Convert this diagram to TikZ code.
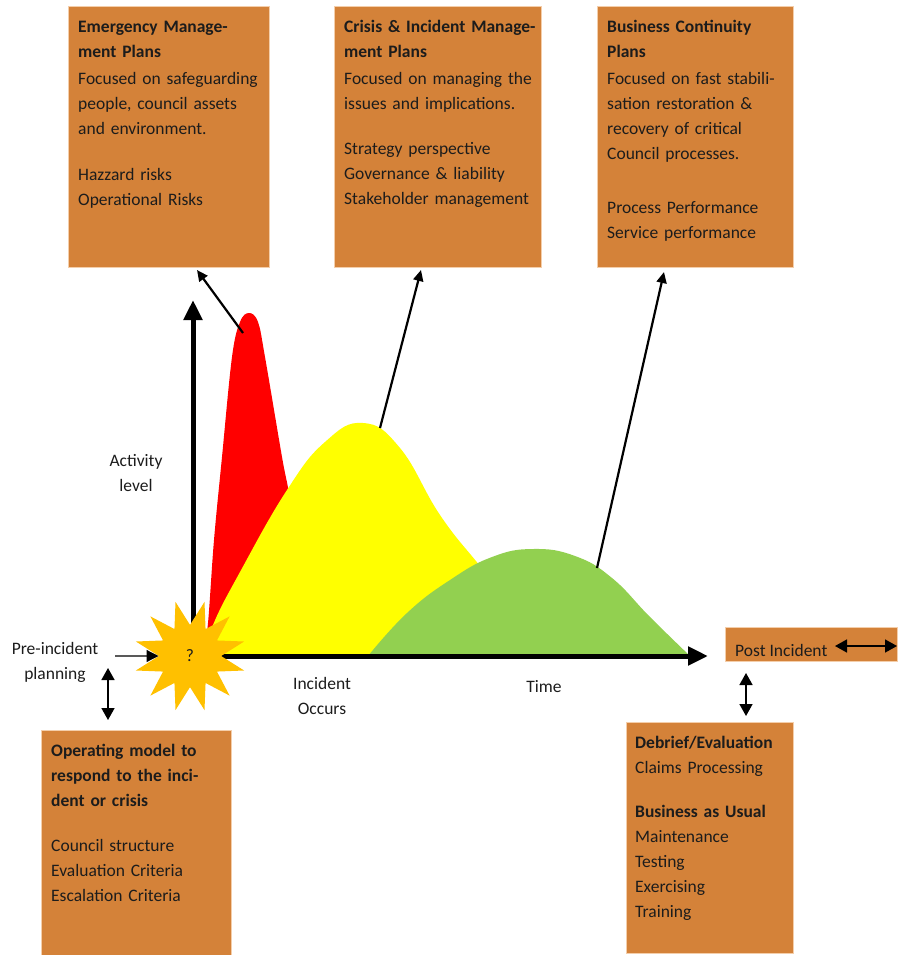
\documentclass[tikz,border=0pt]{standalone}
\usepackage{fontspec}
\setmainfont{Carlito}
\usetikzlibrary{arrows.meta,shapes.geometric}
\definecolor{planorange}{RGB}{212,130,57}
\definecolor{planedge}{RGB}{244,206,170}
\definecolor{peakred}{RGB}{255,0,0}
\definecolor{peakyellow}{RGB}{255,255,0}
\definecolor{peakgreen}{RGB}{146,208,80}
\definecolor{burstgold}{RGB}{255,192,0}
\definecolor{inkgrey}{RGB}{28,28,28}
\newcommand{\planfont}{\fontsize{17.5}{25}\selectfont}
\tikzset{
  planbox/.style={draw=planedge, line width=1pt, fill=planorange, anchor=north west, inner sep=0pt, outer sep=0pt},
  plantext/.style={anchor=north west, inner sep=0pt, text width=195pt, align=left, font=\planfont, text=inkgrey, xshift=10pt, yshift=-8pt},
  axistext/.style={align=center, font=\planfont, text=inkgrey, inner sep=0pt},
  axisline/.style={line width=5pt, -{Triangle[length=20pt,width=18pt]}},
  callout/.style={line width=2.2pt, -{Triangle[length=11pt,width=10pt]}},
  feedarrow/.style={line width=1.2pt, -{Triangle[length=12pt,width=12pt]}},
  dblarrow/.style={line width=1.6pt, {Triangle[length=12pt,width=13pt]}-{Triangle[length=12pt,width=13pt]}},
}
\begin{document}
\begin{tikzpicture}[x=1pt,y=-1pt]
    \useasboundingbox (0,0) rectangle (897,955);
    %% activity curves
    \fill[peakred] plot[smooth, tension=0.6] coordinates {(203,656) (208,623) (214,540) (222,457) (232,357) (240,322) (249,313) (258,322) (265,357) (282,457) (290,500) (300,580) (306,656)} -- cycle;
    \fill[peakyellow] plot[smooth, tension=0.75] coordinates {(205,656) (213,625) (240,572) (287,490) (325,442) (363,423) (400,448) (440,515) (480,566) (520,615) (552,656)} -- cycle;
    \fill[peakgreen] plot[smooth, tension=0.75] coordinates {(368,656) (407,613) (450,580) (492,557) (533,549) (575,556) (612,578) (650,617) (690,656)} -- cycle;
    %% axes
    \coordinate (origin) at (193,656);
    \coordinate (ytop) at (193,300);
    \coordinate (xend) at (708,656);
    \draw[axisline] ([yshift=-2.5pt]origin) -- (ytop);
    \draw[axisline] ([xshift=-2.5pt]origin) -- (xend);
    %% plan boxes
    \node[planbox, minimum width=201pt, minimum height=260pt] (emp) at (68,7) {};
    \node[plantext] (emptext) at (emp.north west) {\strut\textbf{Emergency Manage-}\\ \textbf{ment Plans}\\[2pt]
        Focused on safeguarding\\ people, council assets\\ and environment.\\[21pt] Hazzard risks\\ Operational Risks};
    \node[planbox, minimum width=207pt, minimum height=260pt] (cim) at (334,7) {};
    \node[plantext] (cimtext) at (cim.north west) {\strut\textbf{Crisis \& Incident Manage-}\\ \textbf{ment Plans}\\[2pt]
        Focused on managing the\\ issues and implications.\\[20pt] Strategy perspective\\ Governance \& liability\\ Stakeholder management};
    \node[planbox, minimum width=196pt, minimum height=260pt] (bcp) at (597,7) {};
    \node[plantext] (bcptext) at (bcp.north west) {\strut\textbf{Business Continuity}\\ \textbf{Plans}\\[2pt]
        Focused on fast stabili-\\ sation restoration \&\\ recovery of critical\\ Council processes.\\[29pt]
        Process Performance\\ Service performance};
    \node[planbox, minimum width=190pt, minimum height=225pt] (opm) at (41,730) {};
    \node[plantext, yshift=-1pt] (opmtext) at (opm.north west) {\strut\textbf{Operating model to}\\ \textbf{respond to the inci-}\\ \textbf{dent or crisis}\\[20pt]
        Council structure\\ Evaluation Criteria\\ Escalation Criteria};
    \node[planbox, minimum width=167pt, minimum height=231pt] (brief) at (626,722) {};
    \node[plantext, yshift=-1pt, xshift=-1pt] (brieftext) at (brief.north west) {\strut\textbf{Debrief/Evaluation}\\ Claims Processing\\[19pt]
        \textbf{Business as Usual}\\ Maintenance\\ Testing\\ Exercising\\ Training};
    \node[planbox, minimum width=172pt, minimum height=34pt] (post) at (725,627) {};
    \node[axistext, anchor=west] (posttext) at (735,650) {Post Incident};
    %% callouts from the peaks
    \coordinate (redpeak) at (243,333);
    \coordinate (yellowpeak) at (380,428);
    \coordinate (greenpeak) at (597,568);
    \draw[callout] (redpeak) -- (197,270);
    \draw[callout] (yellowpeak) -- (421,270);
    \draw[callout] (greenpeak) -- (664,272);
    %% incident burst
    \node[star, star points=12, star point ratio=1.8, minimum size=112pt, inner sep=0pt, shape border rotate=15,
        fill=burstgold, font=\planfont, text=inkgrey] (burst) at (190,656) {?};
    %% labels
    \node[axistext] (pre) at (55,662) {Pre-incident\\ planning};
    \node[axistext] (activity) at (136,473) {Activity\\ level};
    \node[axistext] (occurs) at (322,696) {Incident\\ Occurs};
    \node[axistext] (time) at (544,687) {Time};
    %% links
    \draw[feedarrow] (115,656) -- (burst.west);
    \coordinate (predown) at (108,668);
    \draw[dblarrow] (predown) -- ([yshift=10pt]opm.north -| predown);
    \coordinate (postright) at (835,646);
    \draw[dblarrow] (postright) -- (postright -| post.east);
    \coordinate (postdown) at (746,673);
    \draw[dblarrow] (postdown) -- ([yshift=6pt]brief.north -| postdown);
\end{tikzpicture}
\end{document}
